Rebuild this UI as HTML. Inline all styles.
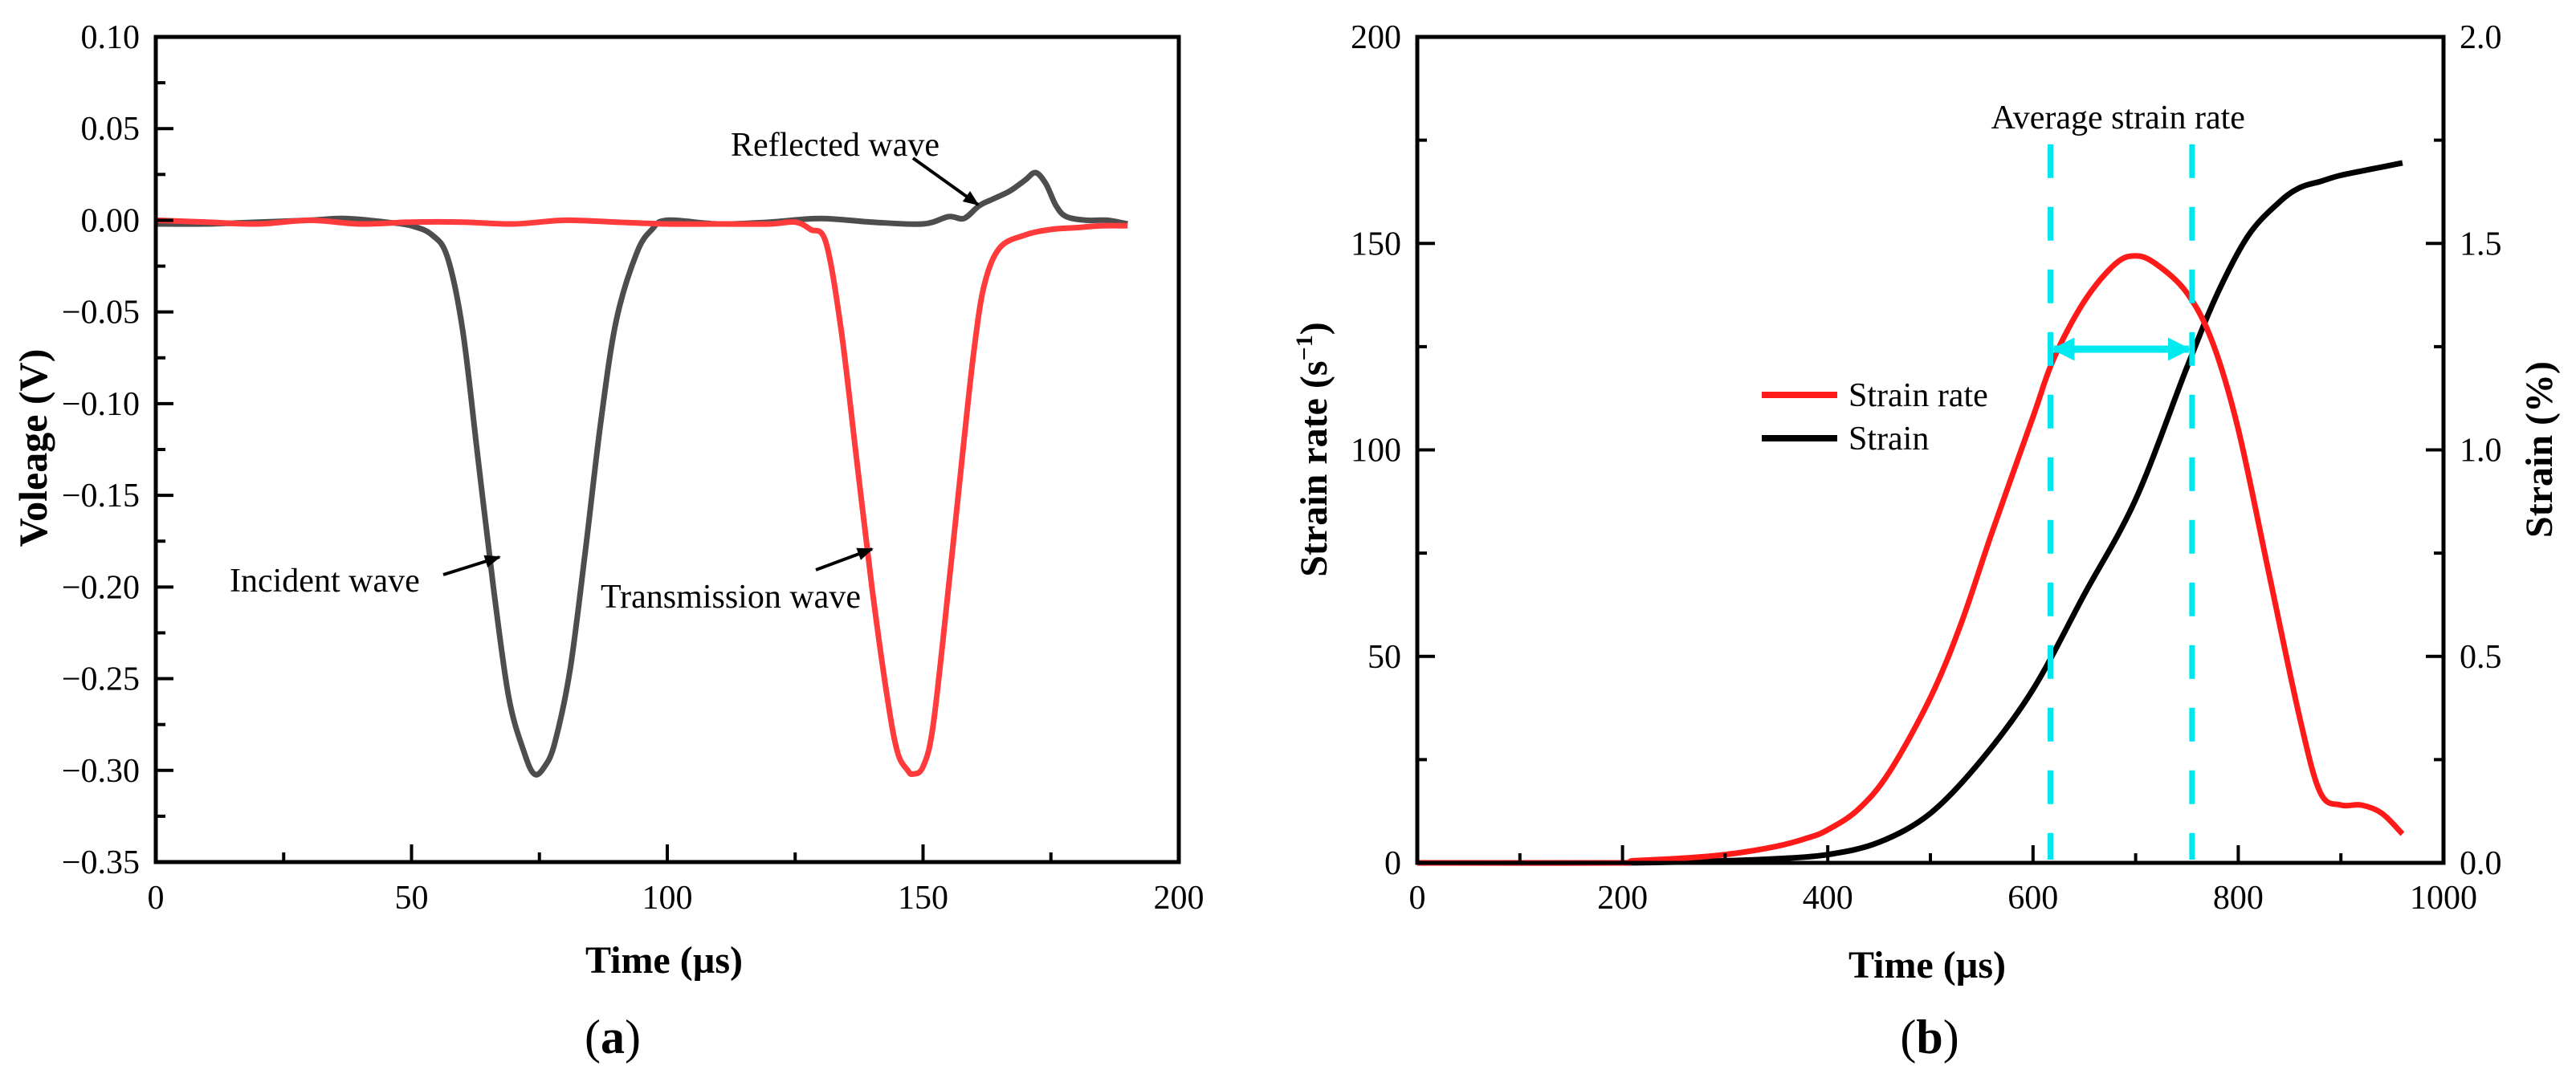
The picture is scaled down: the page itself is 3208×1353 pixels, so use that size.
<!DOCTYPE html>
<html><head><meta charset="utf-8"><style>
html,body{margin:0;padding:0;background:#fff;}
svg{display:block;font-family:"Liberation Serif","DejaVu Serif",serif;}
</style></head><body>
<svg id="fig" width="3208" height="1353" viewBox="0 0 3208 1353" xmlns="http://www.w3.org/2000/svg">
<g id="chartA"></g>
<g id="chartB"></g>
</svg>
<script>
// ---- Chart (a) data ----
const aTime = [0,10,20,30,37,45,50,54,57,60,63,66,69,72,74,76,78,81,84,87,90,94,97,100,110,120,130,140,150,155,158,161,164,167,170,172,174,176,178,182,186,190];
const aIncident = [-0.002,-0.002,-0.001,0,0.001,-0.001,-0.003,-0.008,-0.02,-0.06,-0.13,-0.2,-0.26,-0.29,-0.302,-0.298,-0.285,-0.245,-0.18,-0.11,-0.055,-0.018,-0.005,0,-0.002,-0.001,0.001,-0.001,-0.002,0.002,0.001,0.008,0.012,0.016,0.022,0.026,0.02,0.008,0.002,0.0,0.0,-0.002];
const aTransTime = [0,10,20,30,40,50,60,70,80,90,100,110,120,125,128,131,134,137,140,143,145,147,148,150,152,155,158,160,162,165,170,175,180,185,190];
const aTrans = [0,-0.001,-0.002,0,-0.002,-0.001,-0.001,-0.002,0,-0.001,-0.002,-0.002,-0.002,-0.001,-0.005,-0.012,-0.06,-0.13,-0.2,-0.26,-0.29,-0.3,-0.302,-0.298,-0.275,-0.2,-0.12,-0.07,-0.035,-0.015,-0.008,-0.005,-0.004,-0.003,-0.003];
const aXTicks = [0,50,100,150,200];
const aYTicks = [0.10,0.05,0.00,-0.05,-0.10,-0.15,-0.20,-0.25,-0.30,-0.35];
// ---- Chart (b) data ----
const bTime = [0,100,200,210,250,300,350,380,400,430,460,500,530,560,600,620,650,680,700,720,750,775,800,830,860,880,900,920,940,960];
const bStrainRate = [0,0,0,0.5,1,2,4,6,8,13,22,40,58,80,108,122,136,145,147,145,138,126,105,70,35,17,14,14,12,7];
const bStrainTime = [0,200,300,350,400,450,500,550,600,650,700,750,780,810,840,860,880,900,930,960];
const bStrain = [0,0,0.005,0.01,0.02,0.05,0.12,0.25,0.42,0.65,0.88,1.2,1.38,1.52,1.6,1.635,1.65,1.665,1.68,1.695];
const bXTicks = [0,200,400,600,800,1000];
const bYTicks = [0,50,100,150,200];
const bY2Ticks = ["0.0","0.5","1.0","1.5","2.0"];
const bAvg = [617,755];
const bAvgArrowRate = [124.4];

const NS="http://www.w3.org/2000/svg";
function mk(parent,tag,attrs,text){const e=document.createElementNS(NS,tag);for(const k in attrs)e.setAttribute(k,attrs[k]);if(text!==undefined)e.textContent=text;parent.appendChild(e);return e;}
function pathFrom(xs,ys,fx,fy){
 const P=xs.map((x,i)=>[fx(x),fy(ys[i])]);
 let d='M'+P[0][0].toFixed(1)+' '+P[0][1].toFixed(1);
 for(let i=0;i<P.length-1;i++){
  const p0=P[i-1]||P[i],p1=P[i],p2=P[i+1],p3=P[i+2]||P[i+1];
  const c1=[p1[0]+(p2[0]-p0[0])/6,p1[1]+(p2[1]-p0[1])/6];
  const c2=[p2[0]-(p3[0]-p1[0])/6,p2[1]-(p3[1]-p1[1])/6];
  d+=' C'+c1[0].toFixed(1)+' '+c1[1].toFixed(1)+' '+c2[0].toFixed(1)+' '+c2[1].toFixed(1)+' '+p2[0].toFixed(1)+' '+p2[1].toFixed(1);
 }
 return d;
}

// ---------- Chart A ----------
const A=document.getElementById('chartA');
const aL=194,aR=1468,aT=46,aB=1074;
const ax=t=>aL+(t-0)/(200-0)*(aR-aL);
const ay=v=>aT+(0.10-v)/(0.10+0.35)*(aB-aT);
let e;
e=mk(A,'path',{d:pathFrom(aTime,aIncident,ax,ay),fill:'none',stroke:'#4d4d4d','stroke-width':7,'stroke-linejoin':'round'});


e=mk(A,'path',{d:pathFrom(aTransTime,aTrans,ax,ay),fill:'none',stroke:'#ff3b3b','stroke-width':7,'stroke-linejoin':'round'});


e=mk(A,'rect',{x:aL,y:aT,width:aR-aL,height:aB-aT,fill:'none',stroke:'#000','stroke-width':5});


for(let t=0;t<=200;t+=25){const maj=t%50===0;mk(A,'line',{x1:ax(t),x2:ax(t),y1:aB,y2:aB-(maj?22:12),stroke:'#000','stroke-width':4});}
aXTicks.forEach(t=>{e=mk(A,'text',{x:ax(t),y:1132,'font-size':42,'text-anchor':'middle'},String(t));

});
for(let i=0;i<=18;i++){const v=0.10-i*0.025;const maj=i%2===0;mk(A,'line',{x1:aL,x2:aL+(maj?22:12),y1:ay(v),y2:ay(v),stroke:'#000','stroke-width':4});}
aYTicks.forEach(v=>{const s=(v<0?'\u22120':'0')+Math.abs(v).toFixed(2).slice(1);e=mk(A,'text',{x:174,y:ay(v)+14,'font-size':42,'text-anchor':'end'},s);

});
e=mk(A,'text',{x:ax(100)-4,y:1212,'font-size':48,'font-weight':'bold','text-anchor':'middle'},'Time (\u00b5s)');


e=mk(A,'text',{x:0,y:0,'font-size':50,'font-weight':'bold','text-anchor':'middle',transform:'translate(58,558) rotate(-90)'},'Voleage (V)');


e=mk(A,'text',{x:763,y:1312,'font-size':60,'text-anchor':'middle'});e.innerHTML='(<tspan font-weight="bold">a</tspan>)';


mk(A,'defs',{}).innerHTML='<marker id="ah" viewBox="0 0 10 10" refX="9" refY="5" markerWidth="5" markerHeight="5" orient="auto"><path d="M0,1 L10,5 L0,9 z" fill="#000"/></marker><marker id="ca" viewBox="0 0 10 10" refX="9" refY="5" markerWidth="3.2" markerHeight="3.2" orient="auto-start-reverse"><path d="M0,0 L10,5 L0,10 z" fill="#00eaf0"/></marker>';
function annot(par,name,tx,ty,txt,x1,y1,x2,y2){
 const t=mk(par,'text',{x:tx,y:ty,'font-size':42},txt);
 
 
 const l=mk(par,'line',{x1:x1,y1:y1,x2:x2,y2:y2,stroke:'#000','stroke-width':4,'marker-end':'url(#ah)'});
 
 
}
annot(A,'reflected-wave-label',910,194,'Reflected wave',1137,197,1218,255);
annot(A,'incident-wave-label',286,737,'Incident wave',552,716,622,694);
annot(A,'transmission-wave-label',748,757,'Transmission wave',1016,710,1086,684);

// ---------- Chart B ----------
const B=document.getElementById('chartB');
const bL=1765,bR=3043,bT=46,bB=1075;
const bx=t=>bL+t/1000*(bR-bL);
const by=v=>bB-v/200*(bB-bT);
const by2=v=>bB-v/2*(bB-bT);
e=mk(B,'path',{d:pathFrom(bStrainTime,bStrain,bx,by2),fill:'none',stroke:'#000','stroke-width':7});


e=mk(B,'path',{d:pathFrom(bTime,bStrainRate,bx,by),fill:'none',stroke:'#ff1a1a','stroke-width':7,'stroke-linejoin':'round'});


bAvg.forEach((t,i)=>{e=mk(B,'line',{x1:bx(t),x2:bx(t),y1:by(174),y2:bB-4,stroke:'#00e5ee','stroke-width':7,'stroke-dasharray':'42 36'});

});
e=mk(B,'line',{x1:bx(bAvg[0])+4,x2:bx(bAvg[1])-4,y1:by(bAvgArrowRate[0]),y2:by(bAvgArrowRate[0]),stroke:'#00eaf0','stroke-width':9,'marker-start':'url(#ca)','marker-end':'url(#ca)'});


e=mk(B,'text',{x:bx((bAvg[0]+bAvg[1])/2)-4,y:160,'font-size':42,'text-anchor':'middle'},'Average strain rate');


e=mk(B,'rect',{x:bL,y:bT,width:bR-bL,height:bB-bT,fill:'none',stroke:'#000','stroke-width':5});


for(let t=0;t<=1000;t+=100){const maj=t%200===0;mk(B,'line',{x1:bx(t),x2:bx(t),y1:bB,y2:bB-(maj?22:12),stroke:'#000','stroke-width':4});}
bXTicks.forEach(t=>{e=mk(B,'text',{x:bx(t),y:1132,'font-size':42,'text-anchor':'middle'},String(t));

});
for(let v=0;v<=200;v+=25){const maj=v%50===0;mk(B,'line',{x1:bL,x2:bL+(maj?22:12),y1:by(v),y2:by(v),stroke:'#000','stroke-width':4});mk(B,'line',{x1:bR,x2:bR-(maj?22:12),y1:by(v),y2:by(v),stroke:'#000','stroke-width':4});}
bYTicks.forEach(v=>{e=mk(B,'text',{x:1745,y:by(v)+14,'font-size':42,'text-anchor':'end'},String(v));

});
bY2Ticks.forEach(s=>{e=mk(B,'text',{x:3063,y:by2(parseFloat(s))+14,'font-size':42},s);

});
e=mk(B,'text',{x:bx(500)-4,y:1218,'font-size':48,'font-weight':'bold','text-anchor':'middle'},'Time (\u00b5s)');


e=mk(B,'text',{x:0,y:0,'font-size':48,'font-weight':'bold','text-anchor':'middle',transform:'translate(1652,560) rotate(-90)'});e.innerHTML='Strain rate (s<tspan font-size="30" dy="-18">\u22121</tspan><tspan dy="18">)</tspan>';


e=mk(B,'text',{x:0,y:0,'font-size':48,'font-weight':'bold','text-anchor':'middle',transform:'translate(3178,560) rotate(-90)'},'Strain (%)');


e=mk(B,'text',{x:2403,y:1312,'font-size':60,'text-anchor':'middle'});e.innerHTML='(<tspan font-weight="bold">b</tspan>)';


const lg=mk(B,'g',{});


e=mk(lg,'line',{x1:2194,x2:2288,y1:492,y2:492,stroke:'#ff1a1a','stroke-width':8});


e=mk(lg,'text',{x:2302,y:506,'font-size':42},'Strain rate');


e=mk(lg,'line',{x1:2194,x2:2288,y1:546,y2:546,stroke:'#000','stroke-width':8});


e=mk(lg,'text',{x:2302,y:560,'font-size':42},'Strain');


</script>
</body></html>
